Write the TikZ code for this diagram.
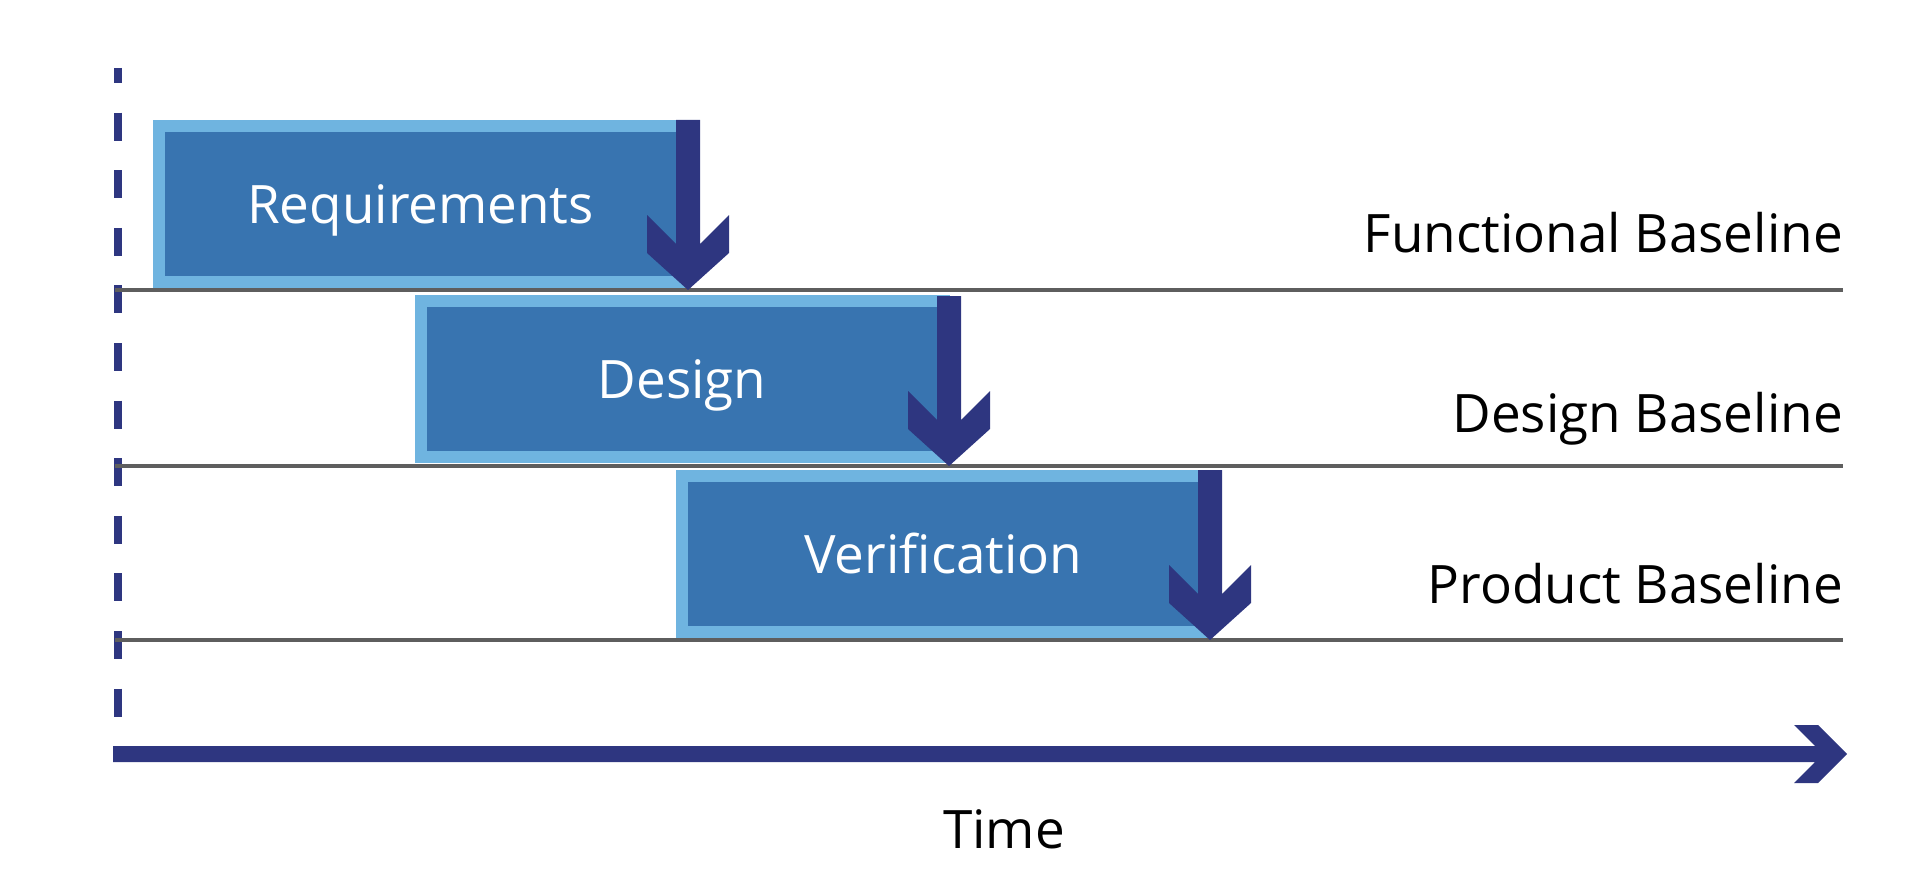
\documentclass[tikz,border=0pt]{standalone}
\usepackage{fontspec}
\setmainfont{Open Sans}
\definecolor{boxlight}{HTML}{6FB4E0}
\definecolor{boxdark}{HTML}{3874B0}
\definecolor{navy}{HTML}{2E3680}
\definecolor{lineg}{HTML}{5E5E5E}
\begin{document}
\begin{tikzpicture}[x=1pt,y=-1pt,
  phase/.style={draw=boxlight, line width=12pt, fill=boxdark, text=white,
    font=\fontsize{53}{60}\selectfont, minimum width=523pt, minimum height=156pt,
    inner sep=0pt, text height=38pt, text depth=0pt},
  blabel/.style={font=\fontsize{53}{60}\selectfont, anchor=base east, inner sep=0pt},
  bline/.style={lineg, line width=3.5pt},
  milestone/.pic={\fill[navy] (-12,-170) -- (12,-170) -- (12,-46) -- (41,-75) -- (41,-37)
      -- (0,0) -- (-41,-37) -- (-41,-75) -- (-12,-46) -- cycle;}]
\path[use as bounding box] (0,0) rectangle (1922,872);

% vertical dashed axis
\coordinate (v0) at (118,68);
\coordinate (v1) at (118,760);
\draw[navy, line width=8pt, dash pattern=on 28pt off 29.6pt, dash phase=13pt] (v0) -- (v1);

% phase boxes
\node[phase] (req) at (420.5,204) {Requirements};
\node[phase] (des) at (682,379) {Design};
\node[phase] (ver) at (943.5,554) {Verification};

% baselines
\coordinate (f0) at (115,290); \coordinate (f1) at (1843,290);
\coordinate (d0) at (115,466); \coordinate (d1) at (1843,466);
\coordinate (p0) at (115,640); \coordinate (p1) at (1843,640);
\draw[bline] (f0) -- (f1);
\draw[bline] (d0) -- (d1);
\draw[bline] (p0) -- (p1);

% milestone arrows
\coordinate (m1) at (688,290);
\coordinate (m2) at (949,466);
\coordinate (m3) at (1210,640);
\pic at (m1) {milestone};
\pic at (m2) {milestone};
\pic at (m3) {milestone};

% baseline labels
\node[blabel] (fl) at (1843,252) {Functional Baseline};
\node[blabel] (dl) at (1843,432) {Design Baseline};
\node[blabel] (pl) at (1843,603) {Product Baseline};

% time axis
\coordinate (t0) at (113,754);
\coordinate (t1) at (1847,754);
\fill[navy] (t0) ++(0,-8) -- (1815,746) -- (1794,725) -- (1818,725) -- (t1)
  -- (1818,783) -- (1794,783) -- (1815,762) -- (113,762) -- cycle;
\node[font=\fontsize{53}{60}\selectfont, anchor=base, inner sep=0pt] (time) at (1004,848) {Time};
\end{tikzpicture}
\end{document}
